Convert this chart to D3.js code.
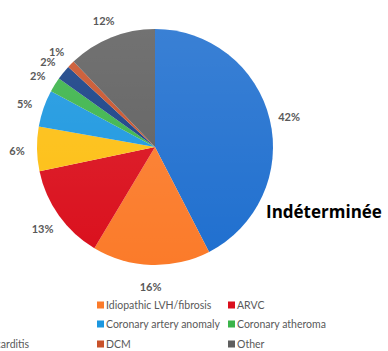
<!DOCTYPE html>
<html>
<head>
<meta charset="utf-8">
<script src="https://cdn.jsdelivr.net/npm/d3@7"></script>
<style>
  html, body { margin: 0; padding: 0; background: #fff; }
  svg { display: block; }
</style>
</head>
<body>
<svg id="chart" width="388" height="351"></svg>
<script>
// Causes, in drawing order (clockwise from 12 o'clock)
const categories = [
  "SADS", "Idiopathic LVH/fibrosis", "ARVC",
  "HCM", "Coronary artery anomaly", "Coronary atheroma",
  "Myocarditis", "DCM", "Other"
];
const values = [42, 16, 13, 6, 5, 2, 2, 1, 12];
const colors = [
  "#1f6fcf", "#fb7b2a", "#da0f1c",
  "#fdbf12", "#1b97e0", "#3bb44a",
  "#163f85", "#c8522a", "#5f5f5f"
];
const annotation = "Indéterminée";

const svg = d3.select("#chart");
const cx = 155, cy = 147, r = 118, labelR = 138;

const pie = d3.pie().sort(null).value(d => d.value);
const data = categories.map((c, i) => ({ name: c, value: values[i], color: colors[i] }));
const arcs = pie(data);

const arc = d3.arc().innerRadius(0).outerRadius(r);
const labelArc = d3.arc().innerRadius(labelR).outerRadius(labelR);

const g = svg.append("g").attr("transform", `translate(${cx},${cy})`);

g.selectAll("path.slice")
  .data(arcs)
  .join("path")
  .attr("class", "slice")
  .attr("d", arc)
  .attr("fill", d => d.data.color);

// Soft top highlight across the whole pie
const defs = svg.append("defs");
const grad = defs.append("linearGradient")
  .attr("id", "shine").attr("x1", 0).attr("y1", 0).attr("x2", 0).attr("y2", 1);
grad.append("stop").attr("offset", "0%").attr("stop-color", "#fff").attr("stop-opacity", 0.12);
grad.append("stop").attr("offset", "100%").attr("stop-color", "#fff").attr("stop-opacity", 0);
g.append("circle").attr("r", r).attr("fill", "url(#shine)");

// Percentage labels outside the slices
g.selectAll("text.pct")
  .data(arcs)
  .join("text")
  .attr("class", "pct")
  .attr("transform", d => `translate(${labelArc.centroid(d)})`)
  .attr("text-anchor", "middle")
  .attr("dy", "0.55em")
  .attr("font-family", "Lato, 'Open Sans', sans-serif")
  .attr("font-weight", "bold")
  .attr("font-size", 11)
  .attr("fill", "#595959")
  .text(d => d.data.value + "%");

// Annotation next to the largest slice
svg.append("text")
  .attr("x", 266)
  .attr("y", 218)
  .attr("font-family", "'Open Sans', Lato, sans-serif")
  .attr("font-weight", "bold")
  .attr("font-size", 17)
  .attr("fill", "#000")
  .text(annotation);

// Legend: three columns, three rows; the first column sits past the left edge
const colX = [-34, 97, 228];
const rowY = [305, 324, 344];
const legend = svg.append("g");
data.forEach((d, i) => {
  const col = i % 3, row = Math.floor(i / 3);
  const item = legend.append("g")
    .attr("transform", `translate(${colX[col]},${rowY[row]})`);
  const label = item.append("text")
    .attr("x", 9)
    .attr("y", 0)
    .attr("dominant-baseline", "central")
    .attr("font-family", "Lato, 'Open Sans', sans-serif")
    .attr("font-size", 10.5)
    .attr("fill", "#595959")
    .text(d.name);
  // Drop entries that would be entirely outside the view
  if (colX[col] + 9 + label.node().getComputedTextLength() <= 2) {
    item.remove();
    return;
  }
  item.insert("rect", "text")
    .attr("x", 0).attr("y", -3.5)
    .attr("width", 7).attr("height", 7)
    .attr("fill", d.color);
});
</script>
</body>
</html>
